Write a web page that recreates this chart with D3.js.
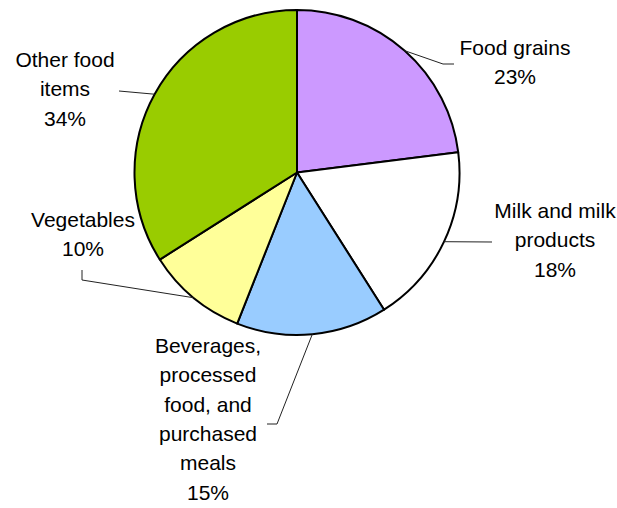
<!DOCTYPE html>
<html lang="en">
<head>
<meta charset="utf-8">
<script src="https://d3js.org/d3.v7.min.js"></script>
<style>
  body { margin: 0; background: #fff; }
  text { font-family: "Liberation Sans", Arial, sans-serif; font-size: 21px; fill: #000; }
</style>
</head>
<body>
<div id="chart"></div>
<script>
// slice data, clockwise from 12 o'clock
const categories = ["Food grains", "Milk and milk products", "Beverages, processed food, and purchased meals", "Vegetables", "Other food items"];
const shares = [23, 18, 15, 10, 34];
const colors = ["#CC99FF", "#FFFFFF", "#99CCFF", "#FFFF99", "#99CC00"];

// label text lines and placement (layout only)
const labelLines = [
  ["Food grains"],
  ["Milk and milk", "products"],
  ["Beverages,", "processed", "food, and", "purchased", "meals"],
  ["Vegetables"],
  ["Other food", "items"]
];
const labelPos = [[515, 55], [555, 218], [208, 353], [83, 227], [65, 67]];
// leader line bends after leaving the pie edge
const leaderPts = [
  [[443, 64], [454, 64]],
  [[492, 242]],
  [[277, 424], [267, 424]],
  [[82, 280], [82, 270]],
  [[119, 91]]
];

const width = 617, height = 508;
const cx = 297, cy = 172.5, r = 162.5;
const lineStep = 29.3;

const svg = d3.select("#chart").append("svg")
  .attr("width", width).attr("height", height);

const data = categories.map((c, i) => ({ name: c, value: shares[i], i }));

const pie = d3.pie().value(d => d.value).sort(null);
const arcs = pie(data);
const arc = d3.arc().innerRadius(0).outerRadius(r);

const g = svg.append("g").attr("transform", `translate(${cx},${cy})`);

g.selectAll("path")
  .data(arcs)
  .join("path")
  .attr("d", arc)
  .attr("fill", d => colors[d.data.i])
  .attr("stroke", "#000")
  .attr("stroke-width", 2)
  .attr("stroke-linejoin", "round");

// leader lines from the slice's mid-angle on the rim
const line = d3.line();
svg.append("g").selectAll("path")
  .data(arcs)
  .join("path")
  .attr("fill", "none")
  .attr("stroke", "#222")
  .attr("stroke-width", 1)
  .attr("d", d => {
    const a = (d.startAngle + d.endAngle) / 2;
    const start = [cx + r * Math.sin(a), cy - r * Math.cos(a)];
    return line([start, ...leaderPts[d.data.i]]);
  });

// labels
const labels = svg.append("g").selectAll("text")
  .data(arcs)
  .join("text")
  .attr("text-anchor", "middle")
  .attr("x", d => labelPos[d.data.i][0])
  .attr("y", d => labelPos[d.data.i][1]);

labels.each(function(d) {
  const t = d3.select(this);
  const lines = labelLines[d.data.i].concat([d3.format(".0%")(d.data.value / 100)]);
  lines.forEach((s, k) => {
    t.append("tspan")
      .attr("x", labelPos[d.data.i][0])
      .attr("dy", k === 0 ? 0 : lineStep)
      .text(s);
  });
});
</script>
</body>
</html>
